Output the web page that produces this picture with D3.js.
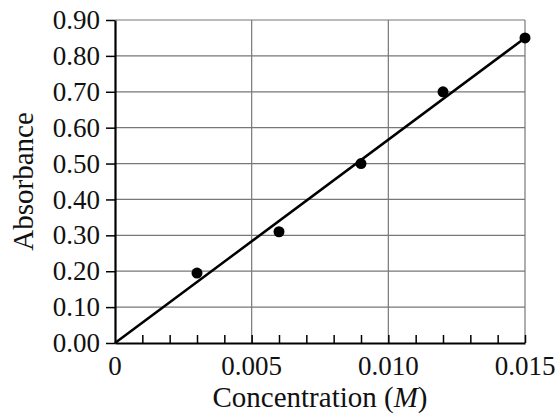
<!DOCTYPE html>
<meta charset="utf-8">
<style>
body { margin: 0; background: #fff; }
svg text { font-family: "Liberation Serif", "Times New Roman", serif; fill: #111; }
</style>
<svg width="560" height="417"></svg>
<script src="https://d3js.org/d3.v7.min.js"></script>
<script>
// data
var concentration = [0.003, 0.006, 0.009, 0.012, 0.015];
var absorbance = [0.195, 0.31, 0.50, 0.70, 0.85];
var fitLine = [[0, 0], [0.015, 0.85]];
var yTicks = [0, 0.1, 0.2, 0.3, 0.4, 0.5, 0.6, 0.7, 0.8, 0.9];
var xLabels = [0, 0.005, 0.010, 0.015];
var xMinor = d3.range(1, 16).map(function(i) { return i / 1000; });

var svg = d3.select("svg");
var mLeft = 115, mRight = 525, mTop = 20, mBottom = 343;
var fontSize = "27px";
var titleSize = "29px";

var x = d3.scaleLinear().domain([0, 0.015]).range([mLeft, mRight]);
var y = d3.scaleLinear().domain([0, 0.9]).range([mBottom, mTop]);

// horizontal grid
svg.append("g").selectAll("line")
  .data(yTicks.slice(1))
  .enter().append("line")
  .attr("x1", mLeft).attr("x2", mRight)
  .attr("y1", function(d) { return y(d); })
  .attr("y2", function(d) { return y(d); })
  .attr("stroke", "#777").attr("stroke-width", 1.2);

// vertical grid
svg.append("g").selectAll("line")
  .data(xLabels.slice(1))
  .enter().append("line")
  .attr("x1", function(d) { return x(d); })
  .attr("x2", function(d) { return x(d); })
  .attr("y1", mTop).attr("y2", mBottom)
  .attr("stroke", "#777").attr("stroke-width", 1.2);

// y axis
var yAxis = d3.axisLeft(y).tickValues(yTicks).tickSize(9).tickSizeOuter(0).tickPadding(6)
  .tickFormat(d3.format(".2f"));
var gy = svg.append("g").attr("transform", "translate(" + mLeft + ",0)").call(yAxis);
gy.select(".domain").attr("stroke", "#000").attr("stroke-width", 2.2);
gy.selectAll(".tick line").attr("stroke", "#000").attr("stroke-width", 1.5);
gy.selectAll("text").style("font-size", fontSize).attr("fill", "#111")
  .style("font-family", "'Liberation Serif', serif");

// x axis with inward minor ticks
var xAxis = d3.axisBottom(x).tickValues(xMinor).tickSize(-8).tickSizeOuter(0).tickFormat("");
var gx = svg.append("g").attr("transform", "translate(0," + mBottom + ")").call(xAxis);
gx.select(".domain").attr("stroke", "#000").attr("stroke-width", 2.2);
gx.selectAll(".tick line").attr("stroke", "#000").attr("stroke-width", 1.5);

svg.append("g").selectAll("text")
  .data(xLabels)
  .enter().append("text")
  .attr("x", function(d) { return x(d); })
  .attr("y", 375)
  .attr("text-anchor", "middle")
  .style("font-size", fontSize)
  .text(function(d) { return d === 0 ? "0" : d3.format(".3f")(d); });

// best fit line
svg.append("path")
  .datum(fitLine)
  .attr("d", d3.line().x(function(d) { return x(d[0]); }).y(function(d) { return y(d[1]); }))
  .attr("stroke", "#000").attr("stroke-width", 2.5).attr("fill", "none");

// points
svg.append("g").selectAll("circle")
  .data(concentration)
  .enter().append("circle")
  .attr("cx", function(d) { return x(d); })
  .attr("cy", function(d, i) { return y(absorbance[i]); })
  .attr("r", 5.5)
  .attr("fill", "#000");

// axis titles
svg.append("text")
  .attr("x", 320).attr("y", 407)
  .attr("text-anchor", "middle")
  .style("font-size", titleSize)
  .html("Concentration (<tspan font-style='italic'>M</tspan>)");

svg.append("text")
  .attr("transform", "translate(33," + ((mTop + mBottom) / 2) + ") rotate(-90)")
  .attr("text-anchor", "middle")
  .style("font-size", titleSize)
  .text("Absorbance");
</script>
